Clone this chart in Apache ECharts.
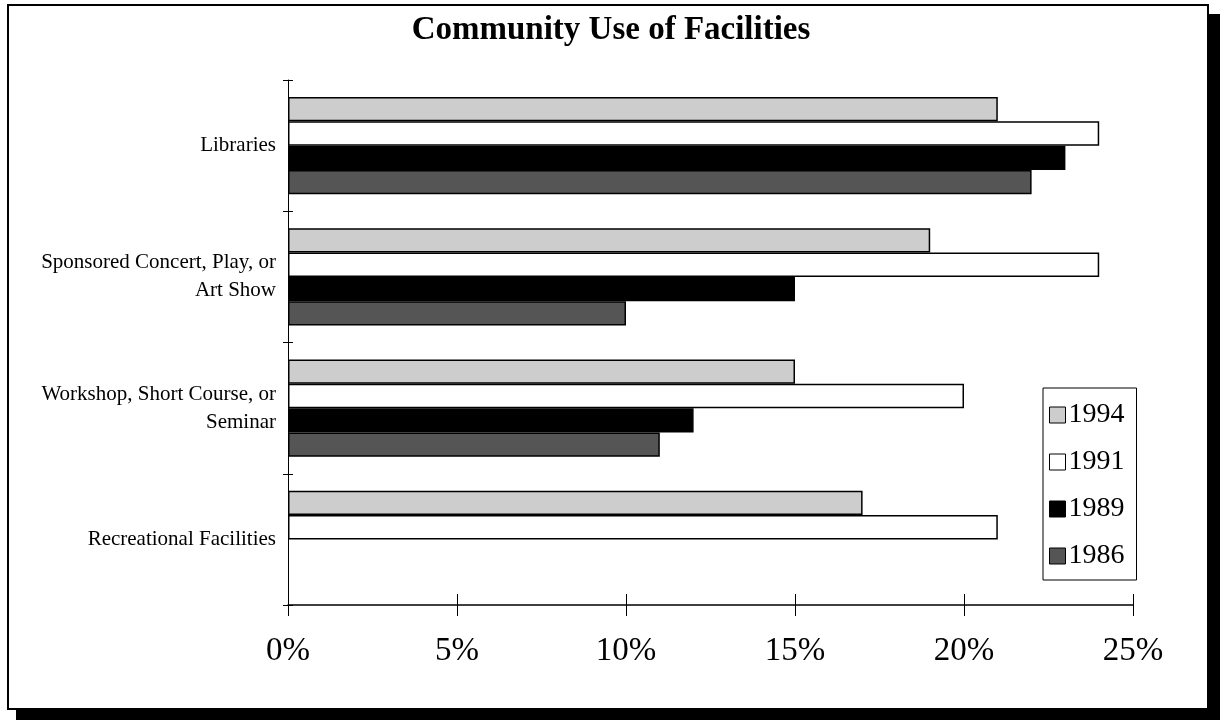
<!DOCTYPE html>
<html>
<head>
<meta charset="utf-8">
<script src="https://cdn.jsdelivr.net/npm/echarts@6/dist/echarts.min.js"></script>
<style>
html,body{margin:0;padding:0;background:#fff;}
#chart{width:1222px;height:721px;}
</style>
</head>
<body>
<div id="chart"></div>
<script>
const categories = ['Libraries', 'Sponsored Concert, Play, or\nArt Show', 'Workshop, Short Course, or\nSeminar', 'Recreational Facilities'];
const years = ['1994', '1991', '1989', '1986'];
const values1994 = [21, 19, 15, 17];
const values1991 = [24, 24, 20, 21];
const values1989 = [23, 15, 12, null];
const values1986 = [22, 10, 11, null];
const xTicks = [0, 5, 10, 15, 20, 25];

const seriesValues = [values1994, values1991, values1989, values1986];
const colors = ['#cdcdcd', '#ffffff', '#000000', '#555555'];
const serif = '"Liberation Serif", "DejaVu Serif", serif';

const chart = echarts.init(document.getElementById('chart'));
chart.setOption({
  backgroundColor: '#fff',
  animation: false,
  title: {
    text: 'Community Use of Facilities',
    left: 'center',
    top: 9,
    textStyle: { fontFamily: serif, fontWeight: 'bold', fontSize: 33, color: '#000' }
  },
  legend: {
    orient: 'vertical',
    left: 1043,
    top: 388,
    padding: [13, 12, 10, 6],
    itemGap: 19,
    itemWidth: 16,
    itemHeight: 16,
    icon: 'rect',
    borderColor: '#000',
    borderWidth: 1,
    data: years,
    textStyle: { fontFamily: serif, fontSize: 28, color: '#000', padding: [0, 0, 0, -2] },
    itemStyle: { borderColor: '#000', borderWidth: 1 }
  },
  grid: { left: 288, right: 89, top: 80, bottom: 116 },
  xAxis: [
    {
      type: 'value', min: 0, max: 25, interval: 5, position: 'bottom',
      axisLine: { show: true, onZero: false, lineStyle: { color: '#000', width: 1.5 } },
      axisTick: { show: false },
      splitLine: { show: false },
      axisLabel: {
        margin: 30,
        fontFamily: serif, fontSize: 33, color: '#000',
        formatter: v => xTicks.includes(v) ? v + '%' : ''
      }
    },
    {
      type: 'value', min: 0, max: 25, interval: 5, position: 'bottom', offset: 11,
      axisLine: { show: false, onZero: false },
      axisTick: { show: true, inside: true, length: 22, lineStyle: { color: '#000', width: 1 } },
      splitLine: { show: false },
      axisLabel: { show: false }
    }
  ],
  yAxis: [
    {
      type: 'category', data: categories, inverse: true, position: 'left',
      axisLine: { show: true, onZero: false, lineStyle: { color: '#000', width: 1 } },
      axisTick: { show: false },
      axisLabel: {
        margin: 12, fontFamily: serif, fontSize: 21, color: '#000',
        align: 'right', lineHeight: 28, padding: [0, 0, 14, 0]
      }
    },
    {
      type: 'category', data: categories, inverse: true, position: 'left', offset: 5,
      axisLine: { show: false, onZero: false },
      axisTick: { show: true, inside: true, length: 10, lineStyle: { color: '#000' } },
      axisLabel: { show: false }
    }
  ],
  series: years.map((y, i) => ({
    name: y,
    type: 'bar',
    xAxisIndex: 0,
    yAxisIndex: 0,
    data: seriesValues[i],
    barGap: '0%',
    barCategoryGap: '26%',
    itemStyle: { color: colors[i], borderColor: '#000', borderWidth: 1.5 }
  })),
  graphic: [
    { type: 'rect', shape: { x: 1208, y: 14, width: 12, height: 706 }, style: { fill: '#000' }, silent: true },
    { type: 'rect', shape: { x: 16, y: 709, width: 1204, height: 11 }, style: { fill: '#000' }, silent: true },
    { type: 'rect', shape: { x: 8, y: 5, width: 1200, height: 704 }, style: { fill: 'none', stroke: '#000', lineWidth: 2 }, silent: true }
  ]
});
</script>
</body>
</html>
